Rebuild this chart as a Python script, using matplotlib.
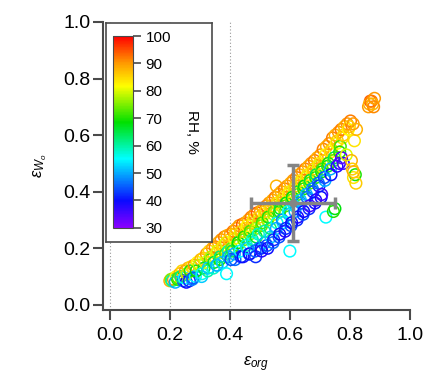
import numpy as np
import matplotlib
matplotlib.use("Agg")
import matplotlib.pyplot as plt
from matplotlib.colors import LinearSegmentedColormap

plt.rcParams["font.family"] = ["Liberation Sans", "DejaVu Sans"]
plt.rcParams["mathtext.fontset"] = "custom"
plt.rcParams["mathtext.rm"] = "Liberation Sans"
plt.rcParams["mathtext.it"] = "Liberation Sans:italic"

# one row per x column: eps_org, eps_wo, RH (%)
eps_org = [
    0.200, 0.204,
    0.212, 0.207,
    0.221, 0.226, 0.218,
    0.233, 0.228,
    0.241, 0.245, 0.237,
    0.252, 0.255, 0.248,
    0.261, 0.257, 0.265,
    0.272, 0.268, 0.275,
    0.281, 0.285, 0.277,
    0.292, 0.288,
    0.303, 0.298, 0.306,
    0.311, 0.314, 0.307,
    0.322, 0.318, 0.326,
    0.331, 0.335, 0.328,
    0.342, 0.338, 0.345,
    0.351, 0.355, 0.347, 0.358,
    0.362, 0.358, 0.366, 0.356,
    0.371, 0.375, 0.368,
    0.382, 0.378, 0.386, 0.375,
    0.391, 0.388, 0.395, 0.389,
    0.402, 0.398, 0.406, 0.395, 0.404,
    0.411, 0.415, 0.408, 0.417,
    0.422, 0.418, 0.426, 0.415,
    0.431, 0.435, 0.428, 0.437,
    0.442, 0.438, 0.446, 0.435, 0.444,
    0.451, 0.455, 0.448, 0.457,
    0.462, 0.458, 0.466, 0.455, 0.464,
    0.471, 0.475, 0.468, 0.477, 0.466,
    0.482, 0.478, 0.486, 0.475, 0.484,
    0.491, 0.495, 0.488, 0.497, 0.486,
    0.502, 0.498, 0.506, 0.495, 0.504,
    0.511, 0.515, 0.508, 0.517, 0.506,
    0.522, 0.518, 0.526, 0.515, 0.524,
    0.531, 0.535, 0.528, 0.537, 0.526,
    0.542, 0.538, 0.546, 0.535, 0.544,
    0.551, 0.555, 0.548, 0.557, 0.546,
    0.562, 0.558, 0.566, 0.555, 0.564,
    0.571, 0.575, 0.568, 0.577, 0.566,
    0.582, 0.578, 0.586, 0.575, 0.584,
    0.591, 0.595, 0.588, 0.597, 0.586,
    0.602, 0.598, 0.606, 0.595, 0.604, 0.600,
    0.611, 0.615, 0.608, 0.617, 0.606,
    0.622, 0.618, 0.626, 0.615, 0.624,
    0.631, 0.635, 0.628, 0.637, 0.626,
    0.642, 0.638, 0.646, 0.635, 0.644,
    0.651, 0.655, 0.648, 0.657, 0.646,
    0.662, 0.658, 0.666, 0.655, 0.664,
    0.671, 0.675, 0.668, 0.677, 0.666,
    0.682, 0.678, 0.686, 0.675, 0.684,
    0.691, 0.695, 0.688, 0.697, 0.686,
    0.702, 0.698, 0.706, 0.695, 0.704,
    0.711, 0.715, 0.708, 0.717, 0.706,
    0.722, 0.718, 0.726, 0.715, 0.720,
    0.731, 0.735, 0.728, 0.737,
    0.742, 0.738, 0.746, 0.735, 0.750,
    0.751, 0.755, 0.748, 0.757, 0.745,
    0.762, 0.758, 0.766, 0.765,
    0.771, 0.775, 0.768, 0.772,
    0.782, 0.778, 0.778, 0.812,
    0.791, 0.795, 0.788, 0.818,
    0.802, 0.798, 0.805, 0.808,
    0.811, 0.815, 0.812,
    0.822, 0.820,
    0.862, 0.868, 0.865,
    0.872, 0.876, 0.879,
    0.882,
]
eps_wo = [
    0.085, 0.09,
    0.09, 0.085,
    0.10, 0.09, 0.08,
    0.11, 0.095,
    0.12, 0.085, 0.10,
    0.12, 0.08, 0.095,
    0.13, 0.11, 0.085,
    0.135, 0.12, 0.09,
    0.14, 0.10, 0.095,
    0.15, 0.12,
    0.16, 0.14, 0.10,
    0.165, 0.13, 0.11,
    0.18, 0.15, 0.12,
    0.19, 0.16, 0.13,
    0.20, 0.17, 0.13,
    0.205, 0.18, 0.15, 0.14,
    0.22, 0.19, 0.16, 0.14,
    0.23, 0.20, 0.17,
    0.24, 0.21, 0.18, 0.15,
    0.245, 0.22, 0.19, 0.11,
    0.25, 0.23, 0.20, 0.17, 0.16,
    0.26, 0.235, 0.19, 0.16,
    0.27, 0.25, 0.21, 0.18,
    0.28, 0.255, 0.22, 0.17,
    0.285, 0.26, 0.23, 0.19, 0.17,
    0.29, 0.27, 0.24, 0.20,
    0.30, 0.28, 0.25, 0.21, 0.18,
    0.31, 0.29, 0.26, 0.22, 0.18,
    0.32, 0.30, 0.27, 0.23, 0.19,
    0.325, 0.295, 0.24, 0.20, 0.17,
    0.33, 0.31, 0.28, 0.25, 0.20,
    0.34, 0.32, 0.29, 0.22, 0.19,
    0.35, 0.33, 0.30, 0.26, 0.21,
    0.36, 0.34, 0.31, 0.24, 0.20,
    0.37, 0.35, 0.32, 0.27, 0.22,
    0.38, 0.42, 0.33, 0.29, 0.23,
    0.39, 0.36, 0.33, 0.27, 0.24,
    0.40, 0.37, 0.34, 0.29, 0.25,
    0.41, 0.38, 0.35, 0.30, 0.26,
    0.42, 0.39, 0.36, 0.32, 0.27,
    0.43, 0.40, 0.37, 0.33, 0.28, 0.19,
    0.44, 0.41, 0.38, 0.33, 0.29,
    0.45, 0.42, 0.39, 0.35, 0.30,
    0.46, 0.43, 0.40, 0.36, 0.31,
    0.47, 0.44, 0.41, 0.37, 0.32,
    0.48, 0.45, 0.42, 0.38, 0.33,
    0.49, 0.46, 0.43, 0.39, 0.34,
    0.50, 0.47, 0.44, 0.40, 0.35,
    0.51, 0.48, 0.45, 0.41, 0.36,
    0.52, 0.49, 0.46, 0.42, 0.37,
    0.53, 0.50, 0.47, 0.43, 0.38,
    0.55, 0.51, 0.48, 0.44, 0.39,
    0.56, 0.53, 0.49, 0.45, 0.31,
    0.57, 0.54, 0.50, 0.46,
    0.59, 0.55, 0.51, 0.48, 0.34,
    0.60, 0.57, 0.52, 0.49, 0.33,
    0.61, 0.58, 0.54, 0.50,
    0.62, 0.59, 0.56, 0.52,
    0.63, 0.60, 0.50, 0.45,
    0.64, 0.62, 0.53, 0.46,
    0.65, 0.63, 0.51, 0.48,
    0.64, 0.58, 0.47,
    0.62, 0.43,
    0.70, 0.72, 0.71,
    0.72, 0.71, 0.70,
    0.73,
]
rh = [
    88, 75,
    90, 60,
    82, 70, 50,
    88, 72,
    85, 45, 62,
    90, 40, 55,
    88, 78, 42,
    85, 70, 48,
    90, 55, 45,
    82, 68,
    88, 78, 52,
    86, 66, 56,
    90, 80, 60,
    85, 72, 52,
    89, 78, 58,
    92, 84, 66, 55,
    88, 80, 70, 50,
    90, 86, 62,
    92, 84, 72, 52,
    88, 80, 60, 55,
    90, 86, 74, 50, 44,
    92, 82, 64, 46,
    88, 86, 72, 50,
    90, 80, 68, 42,
    94, 86, 74, 55, 40,
    90, 84, 70, 52,
    88, 82, 75, 58, 44,
    92, 86, 72, 55, 40,
    90, 84, 76, 60, 45,
    94, 80, 66, 48, 42,
    90, 86, 74, 58, 42,
    88, 82, 72, 50, 38,
    92, 86, 76, 60, 44,
    90, 84, 70, 52, 40,
    88, 86, 78, 62, 46,
    92, 88, 74, 56, 42,
    90, 84, 70, 50, 44,
    88, 80, 66, 54, 40,
    92, 86, 72, 48, 38,
    90, 82, 68, 52, 42,
    88, 84, 74, 56, 44, 55,
    90, 80, 68, 50, 40,
    92, 86, 72, 54, 42,
    88, 82, 66, 48, 38,
    90, 84, 70, 52, 44,
    92, 80, 68, 46, 40,
    88, 84, 72, 50, 42,
    90, 82, 66, 44, 36,
    92, 86, 70, 48, 40,
    88, 80, 64, 42, 38,
    90, 84, 68, 46, 40,
    92, 86, 72, 50, 36,
    88, 82, 66, 44, 55,
    90, 84, 70, 40,
    92, 86, 74, 50, 68,
    88, 82, 64, 38, 70,
    90, 86, 70, 36,
    92, 84, 72, 34,
    88, 86, 36, 84,
    90, 82, 80, 70,
    92, 86, 88, 86,
    90, 84, 88,
    88, 86,
    90, 94, 88,
    92, 88, 91,
    90,
]

# mean +/- spread marker
mean_org, mean_wo = 0.61, 0.36
err_org, err_wo = 0.14, 0.135

rh_ticks = [30, 40, 50, 60, 70, 80, 90, 100]
x_ticks = [0.0, 0.2, 0.4, 0.6, 0.8, 1.0]
y_ticks = [0.0, 0.2, 0.4, 0.6, 0.8, 1.0]
guide_x = [0.0, 0.2, 0.4]

rainbow = LinearSegmentedColormap.from_list("igor_rainbow", [
    (0.00, "#8a00ff"), (0.14, "#0a0aff"), (0.36, "#00ffff"),
    (0.55, "#00e000"), (0.74, "#ffff00"), (0.86, "#ff9a00"), (1.00, "#ff0000")])

fig = plt.figure(figsize=(4.27, 3.85), dpi=100)
ax = fig.add_axes([0.241, 0.195, 0.719, 0.748])
dark = "#4a4a4a"

for gx in guide_x:
    ax.axvline(gx, color="#9a9a9a", lw=0.8, ls=(0, (1, 2)), zorder=0)

ax.scatter(eps_org, eps_wo, s=70, facecolors="none", edgecolors=rainbow((np.array(rh) - 30) / 70),
           linewidths=1.1, zorder=2)
ax.errorbar([mean_org], [mean_wo], xerr=[err_org], yerr=[err_wo], fmt="o", ms=5,
            color="#858585", ecolor="#858585", elinewidth=2.5, capsize=4, capthick=2.5, zorder=3)

ax.set_xlim(-0.023, 1.0)
ax.set_ylim(-0.018, 1.0)
ax.set_xticks(x_ticks)
ax.set_yticks(y_ticks)
ax.set_xticklabels([f"{v:.1f}" for v in x_ticks])
ax.set_yticklabels([f"{v:.1f}" for v in y_ticks])
for s in ["top", "right"]:
    ax.spines[s].set_visible(False)
for s in ["left", "bottom"]:
    ax.spines[s].set_color(dark); ax.spines[s].set_linewidth(1.5)
ax.tick_params(direction="out", length=7, width=1.5, color=dark, labelsize=14, pad=2)
ax.tick_params(axis="x", pad=5)
ax.set_xlabel(r"$\varepsilon_{org}$", fontsize=12, labelpad=8)
ax.set_ylabel(r"$\varepsilon_{W_o}$", fontsize=12, labelpad=10)

# legend-style box around the colorbar
box = ax.inset_axes([0.01, 0.236, 0.345, 0.761])
box.set_xticks([]); box.set_yticks([])
box.set_facecolor("white")
for s in box.spines.values():
    s.set_color(dark); s.set_linewidth(1.2)
box.set_zorder(4)
cax = ax.inset_axes([0.033, 0.285, 0.065, 0.666])
cax.set_zorder(5)
norm = matplotlib.colors.Normalize(vmin=30, vmax=100)
cb = fig.colorbar(matplotlib.cm.ScalarMappable(norm=norm, cmap=rainbow), cax=cax, ticks=rh_ticks)
cb.outline.set_edgecolor(dark)
cb.outline.set_linewidth(0.8)
cax.tick_params(direction="out", length=6, width=1.2, color=dark, labelsize=11, pad=3)
cax.text(3.95, 0.5, "RH, %", transform=cax.transAxes, rotation=-90, ha="center", va="center", fontsize=11)

fig.savefig("out.png", dpi=100)
